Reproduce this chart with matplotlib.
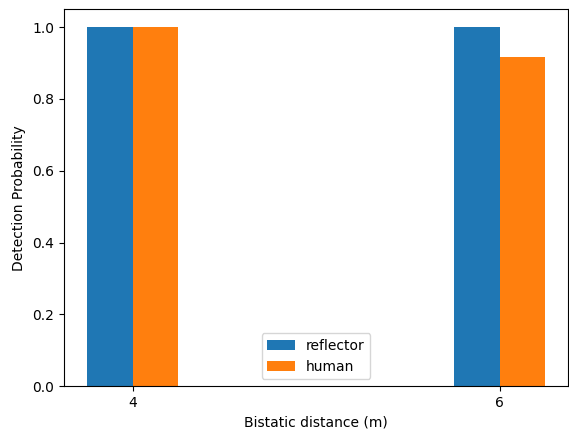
import matplotlib.pyplot as plt
import numpy as np

distances = [4, 6]
reflector = [1.0, 1.0]
human = [1.0, 0.917]

fig, ax = plt.subplots(figsize=(5.69, 4.32), dpi=100)
width = 0.25
x = np.array(distances, dtype=float)
ax.bar(x - width / 2, reflector, width, label='reflector', color='#1f77b4')
ax.bar(x + width / 2, human, width, label='human', color='#ff7f0e')

ax.set_xticks(distances)
ax.set_xlabel('Bistatic distance (m)')
ax.set_ylabel('Detection Probability')
ax.legend(loc='lower center')

fig.subplots_adjust(left=0.112, right=0.999, top=0.979, bottom=0.106)
fig.savefig('out.png', dpi=100)
